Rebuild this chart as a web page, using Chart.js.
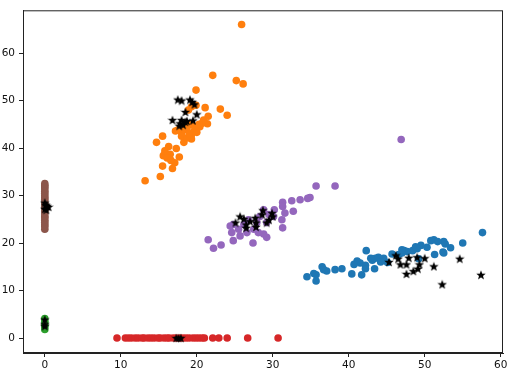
<!DOCTYPE html>
<html>
<head>
<meta charset="utf-8">
<script src="https://cdn.jsdelivr.net/npm/chart.js@4/dist/chart.umd.min.js"></script>
<style>
  html, body { margin: 0; padding: 0; background: #fff; }
  #wrap { width: 510px; height: 372px; }
</style>
</head>
<body>
<div id="wrap"><canvas id="scatterChart"></canvas></div>
<script>
// cluster points, [x, y]
const bluePts = [
  [57.6, 22.2], [55.0, 20.0], [53.4, 19.0], [52.7, 19.8], [52.5, 20.3], [51.2, 20.7],
  [51.7, 20.3], [51.3, 17.6], [52.4, 18.1], [50.3, 19.1], [49.5, 19.5], [49.0, 18.8],
  [48.4, 18.4], [47.7, 18.2], [47.3, 18.4], [47.0, 17.9], [46.6, 17.6], [45.7, 17.7],
  [44.6, 16.8], [43.9, 17.0], [43.5, 16.8], [43.1, 16.4], [42.9, 16.8], [42.3, 18.4],
  [42.2, 15.3], [41.5, 15.8], [41.1, 16.2], [40.7, 15.5], [41.7, 13.3], [40.4, 13.5],
  [42.2, 14.6], [43.4, 14.6], [45.1, 15.9], [44.2, 16.0], [39.1, 14.6], [38.2, 14.4],
  [37.1, 14.1], [36.5, 15.0], [36.7, 14.4], [35.7, 13.3], [35.7, 12.0], [35.4, 13.6],
  [34.5, 12.9], [49.2, 16.7], [52.5, 17.9], [48.8, 19.2], [47.0, 18.6], [50.8, 20.5]
];
const orangePts = [
  [25.9, 66.0], [22.1, 55.3], [25.2, 54.2], [26.1, 53.5], [19.9, 52.2], [21.1, 48.5],
  [23.1, 48.2], [24.0, 46.9], [21.5, 46.7], [21.4, 45.1], [14.7, 41.2], [15.5, 42.5],
  [13.2, 33.1], [15.2, 34.0], [15.5, 36.2], [16.8, 35.7], [17.1, 36.9], [17.7, 38.1],
  [17.3, 39.9], [16.3, 40.3], [15.6, 38.4], [15.8, 39.4], [16.5, 38.7], [18.3, 41.2],
  [19.3, 41.9], [19.3, 42.8], [17.5, 43.8], [18.0, 43.3], [18.7, 44.2], [19.6, 43.5],
  [20.0, 44.1], [20.4, 44.5], [20.0, 43.3], [19.1, 44.9], [18.9, 48.0], [19.3, 48.7],
  [19.9, 49.0], [20.7, 45.2], [20.9, 45.9], [18.0, 42.5], [18.7, 42.1], [17.2, 43.6],
  [18.4, 43.9], [19.8, 44.6], [20.3, 45.0], [19.0, 43.0], [16.1, 37.9], [16.6, 37.4]
];
const greenPts = [[0, 1.8], [0, 2.3], [0, 2.7], [0, 3.2], [0, 3.6], [0, 4.1]];
const redPts = [
  [9.5, 0], [10.6, 0], [11.0, 0], [11.4, 0], [11.9, 0], [12.3, 0], [12.8, 0], [13.1, 0],
  [13.6, 0], [14.0, 0], [14.4, 0], [14.9, 0], [15.2, 0], [15.7, 0], [16.1, 0], [16.4, 0],
  [16.9, 0], [17.3, 0], [17.8, 0], [18.2, 0], [18.6, 0], [19.0, 0], [19.5, 0], [19.9, 0],
  [20.3, 0], [20.7, 0], [21.0, 0], [22.1, 0], [22.9, 0], [24.0, 0], [26.7, 0], [30.7, 0]
];
const purplePts = [
  [46.9, 41.8], [35.7, 32.0], [38.2, 32.0], [34.9, 29.6], [34.6, 29.4], [33.6, 29.1],
  [32.5, 28.9], [31.3, 28.6], [31.3, 27.7], [30.2, 27.0], [31.6, 26.3], [32.7, 26.7],
  [31.2, 24.9], [31.3, 23.2], [29.5, 26.0], [29.2, 24.3], [29.2, 21.2], [28.8, 21.9],
  [28.1, 22.2], [27.5, 22.9], [27.4, 20.0], [26.6, 22.2], [25.7, 21.5], [24.8, 20.5],
  [24.6, 22.2], [24.4, 23.6], [24.8, 23.9], [25.5, 22.9], [26.2, 23.9], [23.2, 19.6],
  [22.2, 18.9], [21.5, 20.7], [26.8, 24.9], [28.3, 25.6], [28.8, 27.0], [30.1, 25.6],
  [27.9, 24.3]
];
const brownPts = [
  [0, 22.9], [0, 23.5], [0, 23.9], [0, 24.4], [0, 24.8], [0, 25.3], [0, 25.6], [0, 26.1],
  [0, 26.6], [0, 27.0], [0, 27.4], [0, 27.9], [0, 28.3], [0, 28.7], [0, 29.2], [0, 29.6],
  [0, 30.0], [0, 30.5], [0, 30.9], [0, 31.4], [0, 31.8], [0, 32.1], [0, 32.5]
];
const starPts = [
  // orange group
  [17.5, 50.2], [18.0, 50.0], [19.1, 50.2], [19.4, 49.7], [19.7, 49.2], [18.5, 47.6],
  [20.0, 47.1], [16.8, 45.9], [18.0, 45.9], [18.7, 45.7], [19.5, 45.8], [17.7, 44.7],
  [18.2, 44.9], [18.5, 45.5], [17.8, 45.2],
  // purple group
  [25.1, 24.3], [25.7, 25.6], [26.2, 25.1], [26.5, 23.9], [26.5, 23.2], [27.0, 24.6],
  [27.7, 25.3], [27.8, 24.3], [27.8, 23.4], [28.7, 26.9], [28.6, 26.0], [29.9, 26.3],
  [30.0, 25.6], [29.2, 24.3], [29.5, 24.9],
  // blue group
  [45.3, 16.0], [46.2, 17.4], [46.5, 16.7], [46.8, 15.5], [47.6, 15.5], [47.9, 16.9],
  [47.6, 13.5], [48.5, 14.1], [49.1, 14.6], [49.3, 15.5], [49.0, 17.0], [50.0, 16.8],
  [51.2, 15.1], [52.3, 11.3], [54.6, 16.7], [57.4, 13.3],
  // brown, green, red groups
  [0, 27.2], [0.1, 28.0], [0.3, 27.8], [0.5, 27.6], [0, 28.5], [0.2, 27.0],
  [0, 2.5], [0, 3.9], [0, 2.9],
  [17.3, 0], [17.6, 0], [17.9, 0]
];
const xTicks = [0, 10, 20, 30, 40, 50, 60];
const yTicks = [0, 10, 20, 30, 40, 50, 60];

// filled five point star like matplotlib's '*'
function makeStar(size) {
  const c = document.createElement('canvas');
  c.width = size; c.height = size;
  const g = c.getContext('2d');
  const cx = size / 2, cy = size / 2 + 0.4;
  const ro = size / 2, ri = ro * 0.42;
  g.beginPath();
  for (let i = 0; i < 10; i++) {
    const r = i % 2 === 0 ? ro : ri;
    const a = -Math.PI / 2 + i * Math.PI / 5;
    const px = cx + r * Math.cos(a), py = cy + r * Math.sin(a);
    if (i === 0) g.moveTo(px, py); else g.lineTo(px, py);
  }
  g.closePath();
  g.fillStyle = '#000';
  g.fill();
  return c;
}

const toXY = pts => pts.map(p => ({ x: p[0], y: p[1] }));

function dots(pts, color, order) {
  return {
    data: toXY(pts),
    backgroundColor: color,
    borderWidth: 0,
    pointRadius: 3.8,
    order: order
  };
}

const frame = {
  id: 'frame',
  afterDraw(chart) {
    const a = chart.chartArea, c = chart.ctx;
    c.save();
    c.strokeStyle = '#222';
    c.lineWidth = 1;
    c.strokeRect(a.left + 0.5, a.top + 0.5, a.right - a.left - 1, a.bottom - a.top - 1);
    c.restore();
  }
};

const ctx = document.getElementById('scatterChart').getContext('2d');

new Chart(ctx, {
  type: 'scatter',
  data: {
    datasets: [
      dots(bluePts, '#1f77b4', 7),
      dots(orangePts, '#ff7f0e', 6),
      dots(greenPts, '#2ca02c', 5),
      dots(redPts, '#d62728', 4),
      dots(purplePts, '#9467bd', 3),
      dots(brownPts, '#8c564b', 2),
      {
        data: toXY(starPts),
        pointStyle: makeStar(10),
        pointRadius: 5,
        order: 1
      }
    ]
  },
  options: {
    animation: false,
    responsive: true,
    maintainAspectRatio: false,
    layout: { padding: { top: 3, right: 7, left: 0, bottom: 0 } },
    plugins: { legend: { display: false }, tooltip: { enabled: false } },
    scales: {
      x: {
        type: 'linear',
        min: -2.87,
        max: 60.3,
        afterBuildTicks: s => { s.ticks = xTicks.map(v => ({ value: v })); },
        afterFit: s => { s.height = 19; },
        grid: { drawOnChartArea: false, drawTicks: true, tickLength: 4, color: '#222' },
        border: { display: true, color: '#222' },
        ticks: { color: '#111', padding: 2, font: { family: 'DejaVu Sans', size: 10.5 } }
      },
      y: {
        type: 'linear',
        min: -3.15,
        max: 69,
        afterBuildTicks: s => { s.ticks = yTicks.map(v => ({ value: v })); },
        afterFit: s => { s.width = 23; },
        grid: { drawOnChartArea: false, drawTicks: true, tickLength: 4, color: '#222' },
        border: { display: true, color: '#222' },
        ticks: { color: '#111', padding: 4, font: { family: 'DejaVu Sans', size: 10.5 } }
      }
    }
  },
  plugins: [frame]
});
</script>
</body>
</html>
